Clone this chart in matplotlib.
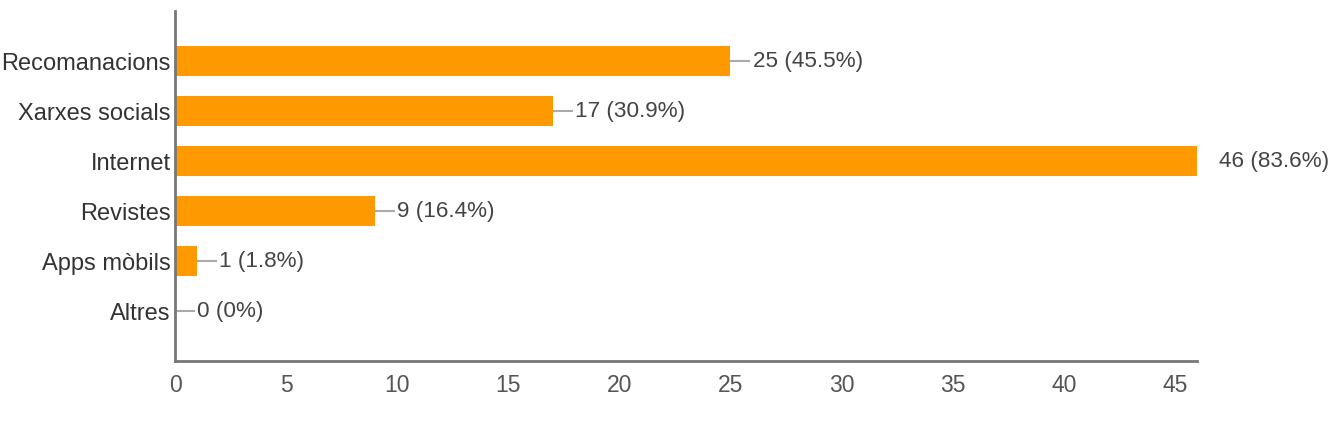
import matplotlib.pyplot as plt

categories = ["Recomanacions", "Xarxes socials", "Internet", "Revistes", "Apps mòbils", "Altres"]
counts = [25, 17, 46, 9, 1, 0]
percents = ["45.5%", "30.9%", "83.6%", "16.4%", "1.8%", "0%"]
xticks = [0, 5, 10, 15, 20, 25, 30, 35, 40, 45]

plt.rcParams["font.family"] = ["Liberation Sans", "DejaVu Sans"]

fig = plt.figure(figsize=(13.3, 4.39), dpi=100)
ax = fig.add_axes([0.1316, 0.1754, 0.7684, 0.7973])

ypos = list(range(len(categories)))[::-1]
ax.barh(ypos, counts, height=0.6, color="#ff9900", zorder=2)

xmax = 46
for y, c, p in zip(ypos, counts, percents):
    # gray connector from bar end to label
    if c < xmax:
        ax.plot([c, c + 0.9], [y, y], color="#aaaaaa", lw=1.5, zorder=1,
                solid_capstyle="butt")
        ax.text(c + 1.0, y, f"{c} ({p})", va="center", ha="left",
                fontsize=16.2, color="#444444")
    else:
        ax.text(c + 1.0, y, f"{c} ({p})", va="center", ha="left",
                fontsize=16.2, color="#444444", clip_on=False)

ax.set_xlim(0, xmax)
ax.set_ylim(-1, 6)
ax.set_yticks(ypos)
ax.set_yticklabels(categories, fontsize=17, color="#333333")
ax.set_xticks(xticks)
ax.set_xticklabels([str(t) for t in xticks], fontsize=16.5, color="#555555")
ax.tick_params(length=0, pad=3)
ax.tick_params(axis="x", pad=9)

for s in ["top", "right"]:
    ax.spines[s].set_visible(False)
for s in ["left", "bottom"]:
    ax.spines[s].set_color("#777777")
    ax.spines[s].set_linewidth(2)

fig.savefig("out.png", dpi=100)
